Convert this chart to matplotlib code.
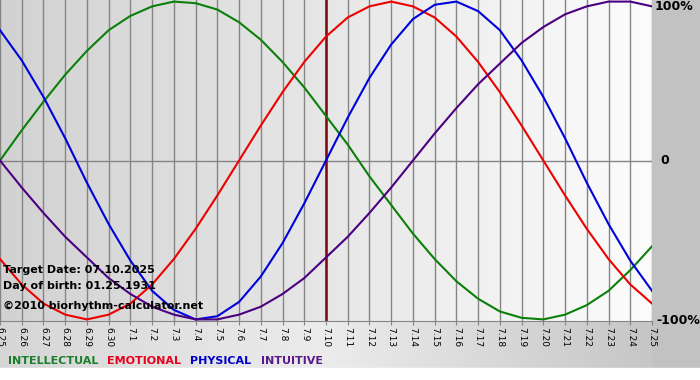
import numpy as np
import matplotlib
matplotlib.use("Agg")
import matplotlib.pyplot as plt
from matplotlib.colors import LinearSegmentedColormap

# days shown on the chart, 06.25 .. 07.25
days = ["6.25", "6.26", "6.27", "6.28", "6.29", "6.30"] + ["7.%d" % d for d in range(1, 26)]
target_day = "7.10"

# biorhythm values (1 = 100%)
intellectual = [0.00, 0.19, 0.37, 0.54, 0.69, 0.82, 0.91, 0.97, 1.00, 0.99, 0.95,
                0.87, 0.76, 0.62, 0.46, 0.28, 0.10, -0.10, -0.28, -0.46, -0.62,
                -0.76, -0.87, -0.95, -0.99, -1.00, -0.97, -0.91, -0.82, -0.69, -0.54]
emotional = [-0.62, -0.78, -0.90, -0.97, -1.00, -0.97, -0.90, -0.78, -0.62, -0.43, -0.22,
             0.00, 0.22, 0.43, 0.62, 0.78, 0.90, 0.97, 1.00, 0.97, 0.90,
             0.78, 0.62, 0.43, 0.22, 0.00, -0.22, -0.43, -0.62, -0.78, -0.90]
physical = [0.82, 0.63, 0.40, 0.14, -0.14, -0.40, -0.63, -0.82, -0.94, -1.00, -0.98,
            -0.89, -0.73, -0.52, -0.27, 0.00, 0.27, 0.52, 0.73, 0.89, 0.98,
            1.00, 0.94, 0.82, 0.63, 0.40, 0.14, -0.14, -0.40, -0.63, -0.82]
intuitive = [0.00, -0.17, -0.33, -0.48, -0.61, -0.74, -0.84, -0.92, -0.97, -1.00, -1.00,
             -0.97, -0.92, -0.84, -0.74, -0.61, -0.48, -0.33, -0.17, 0.00, 0.17,
             0.33, 0.48, 0.61, 0.74, 0.84, 0.92, 0.97, 1.00, 1.00, 0.97]

series = [("INTELLECTUAL", intellectual, "#0a800a"),
          ("EMOTIONAL", emotional, "#ee0000"),
          ("PHYSICAL", physical, "#0000dd"),
          ("INTUITIVE", intuitive, "#4b0082")]
legend_colors = ["#1a7f2a", "#e8001c", "#0000cc", "#5a1a8b"]

W, H = 700, 380
fig = plt.figure(figsize=(W / 100, H / 100), dpi=100)
fig.patch.set_facecolor("#c2c2c2")

# background of the strip under the plot and the white footer
bg = fig.add_axes([0, 0, 1, 1], zorder=0)
bg.set_xlim(0, W)
bg.set_ylim(H, 0)
bg.axis("off")
strip = LinearSegmentedColormap.from_list("strip", ["#d6d6d6", "#ececec", "#c6c6c6"])
bg.imshow(np.linspace(0, 1, 256)[None, :], cmap=strip, aspect="auto",
          extent=[0, 652, 368, 321], zorder=0)
bg.add_patch(plt.Rectangle((0, 368), W, 12, color="white", zorder=1))

ax = fig.add_axes([0, 1 - 321 / H, 652 / W, 321 / H], zorder=1)
x = np.arange(len(days))
ylim = (-1.01, 1.01)
grad = LinearSegmentedColormap.from_list("plotbg", ["#d2d2d2", "#fcfcfc"])
ax.imshow(np.linspace(0, 1, 256)[None, :], cmap=grad, aspect="auto",
          extent=[0, len(days) - 1, ylim[0], ylim[1]], zorder=0)

for xi in x:
    ax.axvline(xi, color="#858585", lw=1.0, zorder=1)
ax.axhline(0, color="#858585", lw=1.0, zorder=1)
ax.axvline(days.index(target_day), color="#7a0a0a", lw=1.8, zorder=2)

for name, vals, col in series:
    ax.plot(x, vals, color=col, lw=1.5, zorder=3)

ax.set_xlim(0, len(days) - 1)
ax.set_ylim(*ylim)
for s in ["top", "left", "right"]:
    ax.spines[s].set_visible(False)
ax.spines["bottom"].set_color("#858585")
ax.set_yticks([])
ax.set_xticks(x)
ax.set_xticklabels(days, rotation=-90, fontsize=6.5, va="top")
ax.tick_params(axis="x", length=3, color="#858585", pad=1)

# right hand percentage labels
tr = ax.get_yaxis_transform()
ax.text(1.004, 1.01, "100%", transform=tr, ha="left", va="top",
        fontsize=9, fontweight="bold", clip_on=False)
ax.text(1.013, 0, "0", transform=tr, ha="left", va="center",
        fontsize=9, fontweight="bold", clip_on=False)
ax.text(1.006, -1.01, "-100%", transform=tr, ha="left", va="center",
        fontsize=9, fontweight="bold", clip_on=False)

# info text in the lower left corner
info = ["Target Date: 07.10.2025", "Day of birth: 01.25.1931"]
fig.text(3 / W, 1 - 270 / H, info[0], fontsize=8, fontweight="bold", va="center", zorder=5)
fig.text(3 / W, 1 - 286 / H, info[1], fontsize=8, fontweight="bold", va="center", zorder=5)
fig.text(3 / W, 1 - 306 / H, "\u00a92010 biorhythm-calculator.net", fontsize=8,
         fontweight="bold", va="center", zorder=5)

# legend row
xpos = 8
r = fig.canvas.get_renderer()
for (name, vals, col), lc in zip(series, legend_colors):
    t = fig.text(xpos / W, 1 - 361 / H, name, color=lc, fontsize=8,
                 fontweight="bold", va="center", zorder=5)
    bb = t.get_window_extent(renderer=r)
    xpos += bb.width + 9

fig.savefig("out.png", dpi=100)
